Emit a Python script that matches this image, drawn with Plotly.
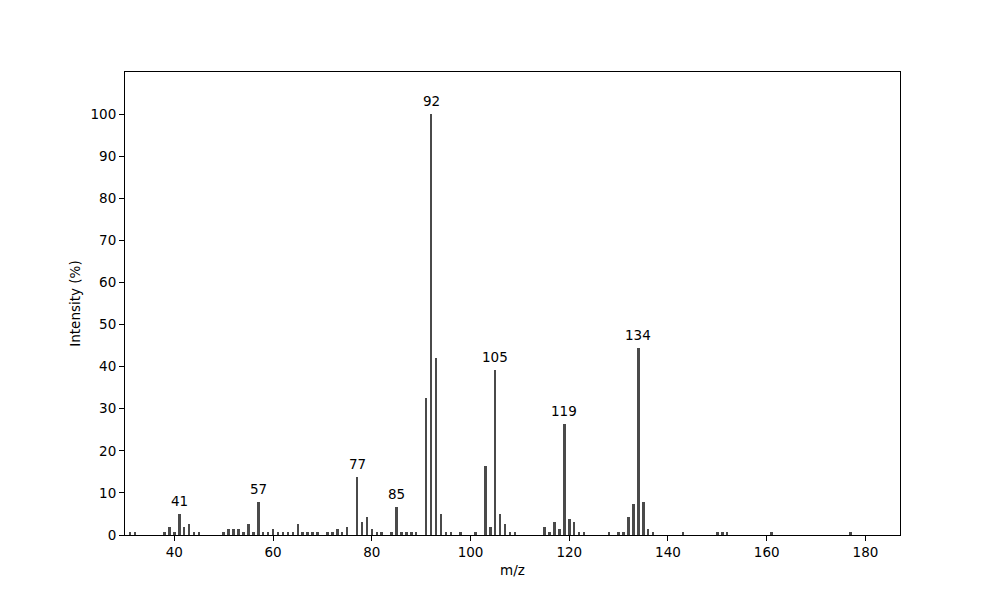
import plotly.graph_objects as go

mz = [31, 32, 38, 39, 40, 41, 42, 43, 44, 45,
      50, 51, 52, 53, 54, 55, 56, 57, 58, 59, 60, 61, 62, 63, 64, 65, 66, 67, 68, 69,
      71, 72, 73, 74, 75, 77, 78, 79, 80, 81, 82, 84, 85, 86, 87, 88, 89,
      91, 92, 93, 94, 95, 96, 98, 101, 103, 104, 105, 106, 107, 108, 109,
      115, 116, 117, 118, 119, 120, 121, 122, 123, 128, 130, 131, 132, 133, 134, 135, 136, 137,
      143, 150, 151, 152, 161, 177]
intensity = [0.7, 0.7, 0.7, 1.9, 0.7, 5.0, 1.9, 2.6, 0.7, 0.7,
             0.7, 1.4, 1.4, 1.4, 0.7, 2.6, 0.7, 7.9, 0.7, 0.7, 1.4, 0.7, 0.7, 0.7, 0.7, 2.6, 0.7, 0.7, 0.7, 0.7,
             0.7, 0.7, 1.4, 0.7, 1.9, 13.8, 3.1, 4.3, 1.4, 0.7, 0.7, 0.7, 6.7, 0.7, 0.7, 0.7, 0.7,
             32.6, 100.0, 42.0, 5.0, 0.7, 0.7, 0.7, 0.7, 16.4, 1.9, 39.2, 5.0, 2.6, 0.7, 0.7,
             1.9, 0.7, 3.1, 1.4, 26.3, 3.8, 3.1, 0.7, 0.7, 0.7, 0.7, 0.7, 4.3, 7.4, 44.4, 7.9, 1.4, 0.7,
             0.7, 0.7, 0.7, 0.7, 0.7, 0.7]
labeled_peaks = [41, 57, 77, 85, 92, 105, 119, 134]

x_ticks = [40, 60, 80, 100, 120, 140, 160, 180]
y_ticks = [0, 10, 20, 30, 40, 50, 60, 70, 80, 90, 100]

FONT = "DejaVu Sans"

fig = go.Figure()
fig.add_trace(go.Bar(x=mz, y=intensity, width=0.5,
                     marker=dict(color="#4a4a4a", line=dict(width=0)),
                     hoverinfo="x+y"))

lookup = dict(zip(mz, intensity))
for p in labeled_peaks:
    fig.add_annotation(x=p, y=lookup[p], text=str(p), showarrow=False,
                       yanchor="bottom", yshift=3,
                       font=dict(family=FONT, size=13.5, color="black"))

axis_common = dict(showline=True, linecolor="black", linewidth=1, mirror=True,
                   ticks="outside", ticklen=5, tickwidth=1, tickcolor="black",
                   showgrid=False, zeroline=False,
                   tickfont=dict(family=FONT, size=13.5, color="black"))

fig.update_layout(
    width=1000, height=600,
    paper_bgcolor="white", plot_bgcolor="white",
    margin=dict(l=117, r=108, t=64, b=73),
    showlegend=False,
    bargap=0,
    font=dict(family=FONT, size=13.5, color="black"),
    xaxis=dict(range=[30, 187], tickvals=x_ticks,
               title=dict(text="m/z", font=dict(family=FONT, size=13.5), standoff=6),
               **axis_common),
    yaxis=dict(range=[0, 110], tickvals=y_ticks,
               title=dict(text="Intensity (%)", font=dict(family=FONT, size=13.5), standoff=6),
               **axis_common),
)

fig.write_html("out.html")
